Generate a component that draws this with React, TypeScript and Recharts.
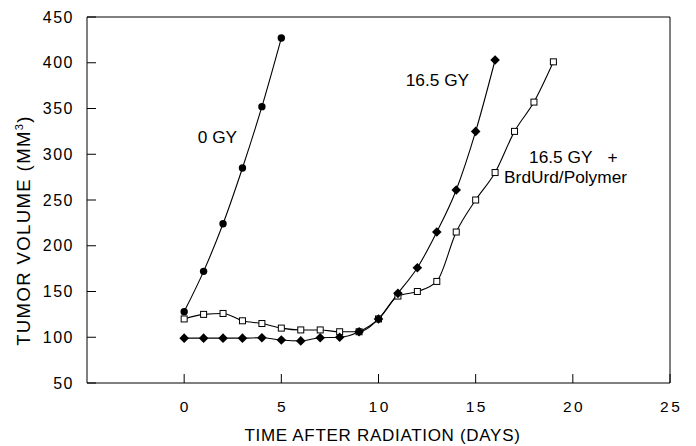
import React from 'react';
import { LineChart, Line, XAxis, YAxis, ReferenceDot } from 'recharts';

const FONT = '"Liberation Sans", Arial, Helvetica, sans-serif';

// Categories (days) and series values
const zeroGyDays = [0, 1, 2, 3, 4, 5];
const zeroGyValues = [128, 172, 224, 285, 352, 427];

const gyDays = [0, 1, 2, 3, 4, 5, 6, 7, 8, 9, 10, 11, 12, 13, 14, 15, 16];
const gyValues = [99, 99, 99, 99, 99.5, 97, 96, 99.5, 100, 106, 120, 148, 176, 215, 261, 325, 403];

const comboDays = [0, 1, 2, 3, 4, 5, 6, 7, 8, 9, 10, 11, 12, 13, 14, 15, 16, 17, 18, 19];
const comboValues = [120, 125, 126, 118, 115, 110, 108, 108, 106, 106, 120, 145, 150, 161, 215, 250, 280, 325, 357, 401];

// Tick labels
const xTicks = [0, 5, 10, 15, 20, 25];
const yTicks = [50, 100, 150, 200, 250, 300, 350, 400, 450];

// Annotation anchors (data coordinates)
const annotations = [
  { day: 0.7, value: 312, lines: ['0 GY'] },
  { day: 11.4, value: 374.6, lines: ['16.5 GY'] },
  { day: 17.75, value: 290.4, lines: ['16.5 GY', 'BrdUrd/Polymer'], plus: true },
];

const zip = (xs: number[], ys: number[]) => xs.map((d, i) => ({ day: d, v: ys[i] }));
const zeroGyData = zip(zeroGyDays, zeroGyValues);
const gyData = zip(gyDays, gyValues);
const comboData = zip(comboDays, comboValues);

const CircleDot = (p: any) => {
  if (p.cx == null || p.cy == null) return null;
  return <circle key={p.key} cx={p.cx} cy={p.cy} r={3.7} fill="#000" />;
};
const DiamondDot = (p: any) => {
  if (p.cx == null || p.cy == null) return null;
  const s = 4.8;
  return (
    <polygon
      key={p.key}
      points={`${p.cx},${p.cy - s} ${p.cx + s},${p.cy} ${p.cx},${p.cy + s} ${p.cx - s},${p.cy}`}
      fill="#000"
    />
  );
};
const SquareDot = (p: any) => {
  if (p.cx == null || p.cy == null) return null;
  const h = 3;
  return <rect key={p.key} x={p.cx - h} y={p.cy - h} width={2 * h} height={2 * h} fill="#fff" stroke="#000" strokeWidth={1} />;
};

const renderYLabel = (props: any) => {
  const vb = props.viewBox || { x: 27, y: 17, width: 60, height: 366 };
  const x = vb.x + 2.5;
  const y = vb.y + vb.height / 2 + 30.5;
  return (
    <text
      transform={`translate(${x}, ${y}) rotate(-90)`}
      textAnchor="middle"
      fontFamily={FONT}
      fontSize={18.5}
      letterSpacing={1.4}
      fill="#000"
    >
      TUMOR VOLUME (MM
      <tspan fontSize={11} dy={-7}>3</tspan>
      <tspan dy={7}>)</tspan>
    </text>
  );
};

const renderXLabel = (props: any) => {
  const vb = props.viewBox || { x: 87, y: 383, width: 583, height: 30 };
  return (
    <text
      x={vb.x + vb.width / 2 + 4}
      y={vb.y + 58}
      textAnchor="middle"
      fontFamily={FONT}
      fontSize={17}
      letterSpacing={0.7}
      fill="#000"
    >
      TIME AFTER RADIATION (DAYS)
    </text>
  );
};

const makeAnnotation = (a: { lines: string[]; plus?: boolean }) => (props: any) => {
  const vb = props.viewBox;
  if (!vb) return null;
  const x = vb.x + vb.width / 2;
  const y = vb.y + vb.height / 2;
  return (
    <text x={x} y={y} fontFamily={FONT} fontSize={17.3} fill="#000">
      <tspan x={x} y={y}>
        {a.lines[0]}
        {a.plus ? <tspan dx={15}>+</tspan> : null}
      </tspan>
      {a.lines[1] ? (
        <tspan x={x - 25} y={y + 19.5}>
          {a.lines[1]}
        </tspan>
      ) : null}
    </text>
  );
};

export default function App() {
  return (
    <div style={{ position: 'absolute', left: 0, top: 0, width: 696, height: 446, background: '#fff' }}>
      <LineChart
        width={696}
        height={446}
        margin={{ top: 16, right: 25, bottom: 33, left: 27 }}
        style={{ fontFamily: FONT }}
      >
        <XAxis
          xAxisId={0}
          dataKey="day"
          type="number"
          domain={[-5, 25]}
          ticks={xTicks}
          allowDataOverflow
          height={30}
          stroke="#000"
          tickSize={-9}
          tickMargin={27}
          tick={{ fontSize: 15.5, fill: '#000', letterSpacing: 2.5, dx: 1.2, fontFamily: FONT }}
          label={renderXLabel}
        />
        <XAxis
          xAxisId="top"
          orientation="top"
          dataKey="day"
          type="number"
          domain={[-5, 25]}
          ticks={xTicks}
          allowDataOverflow
          height={1}
          stroke="#000"
          tickSize={-9}
          tick={false}
        />
        <YAxis
          yAxisId={0}
          type="number"
          domain={[50, 450]}
          ticks={yTicks}
          allowDataOverflow
          width={60}
          stroke="#000"
          tickSize={-9}
          tickMargin={22}
          tick={{ fontSize: 16, fill: '#000', letterSpacing: 1.5, fontFamily: FONT }}
          label={renderYLabel}
        />
        <YAxis
          yAxisId="right"
          orientation="right"
          type="number"
          domain={[50, 450]}
          ticks={yTicks}
          allowDataOverflow
          width={1}
          stroke="#000"
          tickSize={-9}
          tick={false}
        />
        <Line
          data={comboData}
          dataKey="v"
          type="monotone"
          stroke="#000"
          strokeWidth={1.1}
          dot={SquareDot}
          activeDot={false}
          isAnimationActive={false}
        />
        <Line
          data={gyData}
          dataKey="v"
          type="monotone"
          stroke="#000"
          strokeWidth={1.1}
          dot={DiamondDot}
          activeDot={false}
          isAnimationActive={false}
        />
        <Line
          data={zeroGyData}
          dataKey="v"
          type="monotone"
          stroke="#000"
          strokeWidth={1.1}
          dot={CircleDot}
          activeDot={false}
          isAnimationActive={false}
        />
        {annotations.map((a, i) => (
          <ReferenceDot
            key={i}
            x={a.day}
            y={a.value}
            r={1}
            fill="none"
            stroke="none"
            ifOverflow="visible"
            label={makeAnnotation(a)}
          />
        ))}
      </LineChart>
    </div>
  );
}
